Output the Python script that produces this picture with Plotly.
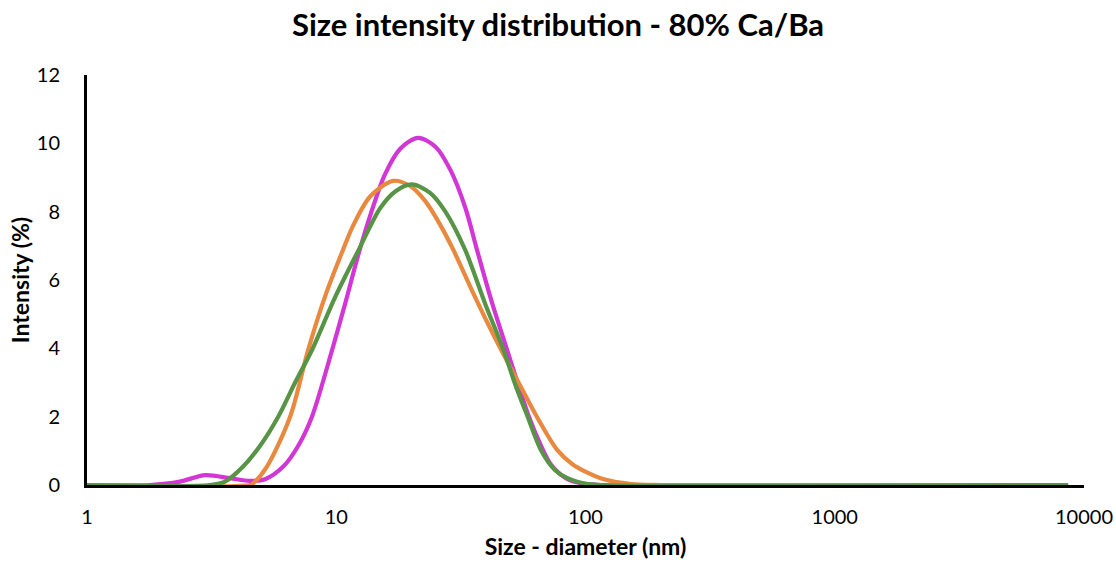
import plotly.graph_objects as go

# Magenta series (size nm, intensity %)
mag_x = [1.0, 1.79, 2.36, 2.98, 3.75, 4.51, 5.18, 6.13, 7.04, 7.99, 9.62, 10.85, 12.27, 13.7,
         15.7, 18.1, 21.3, 25.0, 28.8, 33.0, 36.7, 42.3, 48.5, 59.3, 66.3, 72.7, 83.4, 95.9,
         115.0, 8635.0]
mag_y = [0, 0, 0.1, 0.29, 0.2, 0.12, 0.17, 0.54, 1.15, 2.0, 3.95, 5.3, 6.75, 7.9,
         9.1, 9.85, 10.16, 9.9, 9.2, 8.1, 6.88, 5.3, 3.95, 2.0, 1.15, 0.6, 0.2, 0.05,
         0, 0]

# Orange series
ora_x = [1.0, 4.51, 4.64, 5.27, 6.53, 7.71, 9.05, 10.6, 11.7, 13.7, 16.9, 19.8, 22.8, 26.2,
         29.5, 34.5, 40.1, 46.3, 54.8, 63.8, 77.1, 88.9, 101.8, 115.0, 138.0, 166.0, 200.0,
         8635.0]
ora_y = [0, 0, 0.05, 0.54, 2.0, 3.95, 5.55, 6.85, 7.6, 8.45, 8.9, 8.75, 8.3, 7.6,
         6.88, 5.8, 4.8, 3.9, 2.9, 2.0, 1.02, 0.6, 0.36, 0.2, 0.07, 0.01, 0,
         0]

# Green series
grn_x = [1.0, 3.12, 3.58, 4.23, 4.95, 5.85, 6.84, 7.99, 9.9, 12.3, 15.0, 17.3, 20.1, 23.8,
         27.4, 32.9, 39.6, 46.9, 52.5, 58.6, 66.3, 75.2, 84.7, 99.6, 115.0, 8635.0]
grn_y = [0, 0, 0.1, 0.54, 1.15, 2.0, 3.0, 3.95, 5.5, 6.88, 8.1, 8.6, 8.8, 8.55,
         8.0, 6.88, 5.3, 3.95, 2.9, 2.0, 1.02, 0.45, 0.2, 0.04, 0, 0]

x_ticks = [1, 10, 100, 1000, 10000]
y_ticks = [0, 2, 4, 6, 8, 10, 12]

FONT = "Lato"

fig = go.Figure()
for xs, ys, col in [(mag_x, mag_y, "#D236D4"), (ora_x, ora_y, "#E9883F"), (grn_x, grn_y, "#589446")]:
    fig.add_trace(go.Scatter(x=xs, y=ys, mode="lines",
                             line=dict(color=col, width=4.2, shape="spline", smoothing=0.85),
                             showlegend=False, hoverinfo="skip"))

fig.update_layout(
    width=1116, height=562,
    margin=dict(l=87, r=32, t=75, b=77),
    paper_bgcolor="white", plot_bgcolor="white",
    title=dict(text="<b>Size intensity distribution - 80% Ca/Ba</b>",
               x=0.5, xanchor="center", y=0.955, yanchor="middle",
               font=dict(family=FONT, size=31, color="black")),
    font=dict(family=FONT, color="black"),
)
fig.update_xaxes(type="log", range=[0, 4], tickvals=x_ticks, ticktext=[str(v) for v in x_ticks],
                 showgrid=False, zeroline=False, showline=True, linecolor="black", linewidth=3,
                 ticks="", ticklabelstandoff=12, tickfont=dict(size=20, family=FONT),
                 automargin=False,
                 title=dict(text="<b>Size - diameter (nm)</b>", font=dict(size=23, family=FONT), standoff=12))
fig.update_yaxes(range=[0, 12], tickvals=y_ticks, showgrid=False, zeroline=False,
                 showline=True, linecolor="black", linewidth=3,
                 ticks="", ticklabelstandoff=20, tickfont=dict(size=20, family=FONT),
                 automargin=False,
                 title=dict(text="<b>Intensity (%)</b>", font=dict(size=23, family=FONT), standoff=1))

fig.write_html("out.html")
